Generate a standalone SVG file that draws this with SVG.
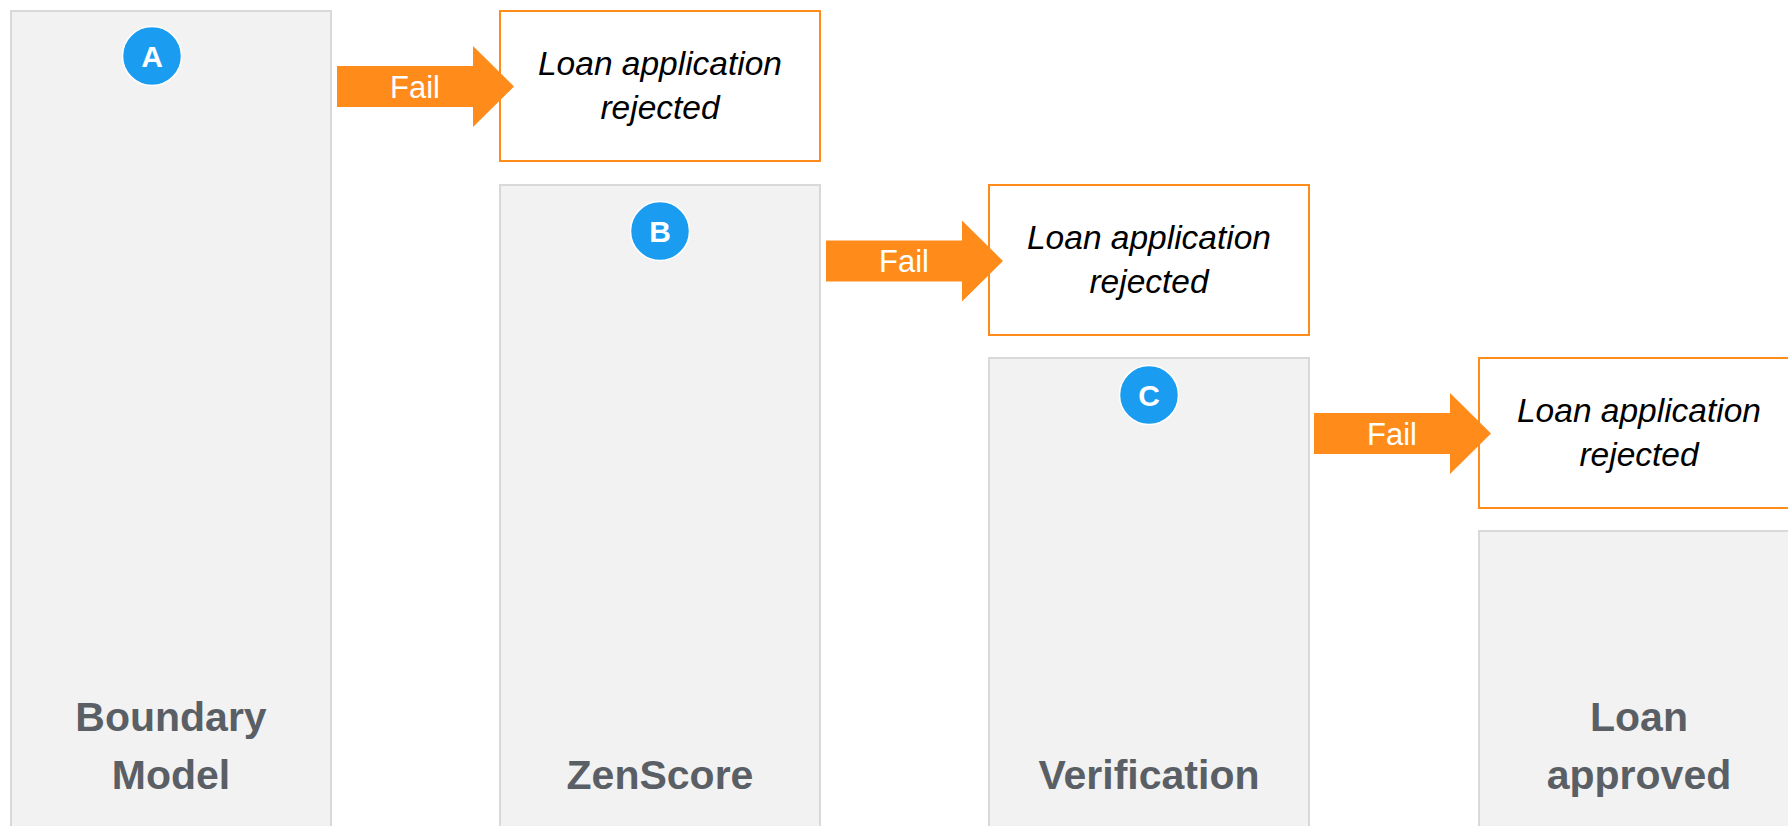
<svg xmlns="http://www.w3.org/2000/svg" width="1788" height="826" viewBox="0 0 1788 826">
<style>
.col{fill:#f2f2f2;stroke:#d9d9d9;stroke-width:2}
.rej{fill:#ffffff;stroke:#ff8c1a;stroke-width:2}
.rt{font-family:"Liberation Sans",Arial,sans-serif;font-style:italic;font-size:33.5px;fill:#000;text-anchor:middle}
.lbl{font-family:"Liberation Sans",Arial,sans-serif;font-weight:bold;font-size:41px;fill:#5a5f66;text-anchor:middle}
.badge{fill:#1a9df0;stroke:#ffffff;stroke-width:1.5}
.bt{font-family:"Liberation Sans",Arial,sans-serif;font-weight:bold;font-size:30px;fill:#fff;text-anchor:middle}
.arr{fill:#ff8c1a}
.ft{font-family:"Liberation Sans",Arial,sans-serif;font-size:31px;fill:#fff;text-anchor:middle}
</style>
<rect width="1788" height="826" fill="#ffffff"/>
<g id="boundary-model">
<rect class="col" x="11" y="11" width="320" height="830"/>
<circle class="badge" cx="152" cy="56" r="29.5"/>
<text class="bt" x="152" y="67">A</text>
<text class="lbl" x="171" y="731">Boundary</text>
<text class="lbl" x="171" y="789">Model</text>
</g>
<g id="zenscore">
<rect class="col" x="500" y="185" width="320" height="660"/>
<circle class="badge" cx="660" cy="231" r="29.5"/>
<text class="bt" x="660" y="242">B</text>
<text class="lbl" x="660" y="789">ZenScore</text>
</g>
<g id="verification">
<rect class="col" x="989" y="358" width="320" height="490"/>
<circle class="badge" cx="1149" cy="395" r="29.5"/>
<text class="bt" x="1149" y="406">C</text>
<text class="lbl" x="1149" y="789">Verification</text>
</g>
<g id="loan-approved">
<rect class="col" x="1479" y="531" width="320" height="320"/>
<text class="lbl" x="1639" y="731">Loan</text>
<text class="lbl" x="1639" y="789">approved</text>
</g>
<g id="rejected-1">
<rect class="rej" x="500" y="11" width="320" height="150"/>
<text class="rt" x="660" y="75">Loan application</text>
<text class="rt" x="660" y="119">rejected</text>
</g>
<g id="rejected-2">
<rect class="rej" x="989" y="185" width="320" height="150"/>
<text class="rt" x="1149" y="249">Loan application</text>
<text class="rt" x="1149" y="293">rejected</text>
</g>
<g id="rejected-3">
<rect class="rej" x="1479" y="358" width="320" height="150"/>
<text class="rt" x="1639" y="422">Loan application</text>
<text class="rt" x="1639" y="466">rejected</text>
</g>
<g id="connectors">
<g transform="translate(337,86.5)">
<path class="arr" d="M0,-20.5 H136 V-40.5 L177,0 L136,40.5 V20.5 H0 Z"/>
<text class="ft" x="78" y="11">Fail</text>
</g>
<g transform="translate(826,261)">
<path class="arr" d="M0,-20.5 H136 V-40.5 L177,0 L136,40.5 V20.5 H0 Z"/>
<text class="ft" x="78" y="11">Fail</text>
</g>
<g transform="translate(1314,433.5)">
<path class="arr" d="M0,-20.5 H136 V-40.5 L177,0 L136,40.5 V20.5 H0 Z"/>
<text class="ft" x="78" y="11">Fail</text>
</g>
</g>
</svg>
